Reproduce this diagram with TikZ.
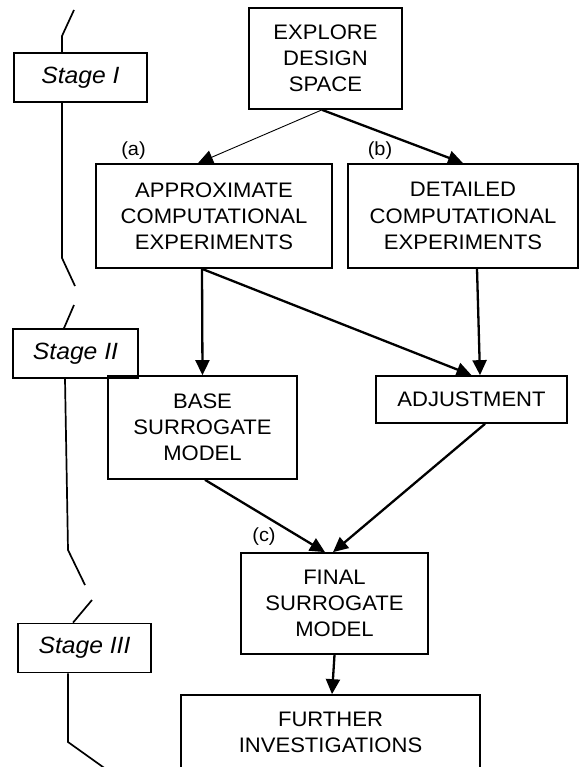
\documentclass[tikz,border=0pt]{standalone}
\usepackage{fontspec}
\setmainfont[FakeStretch=1.05]{Liberation Sans}
\usetikzlibrary{arrows.meta}

\tikzset{
  block/.style={draw, line width=1.7pt, align=center, inner sep=0pt,
    font=\fontsize{21}{26.2}\selectfont},
  stagebox/.style={draw, line width=1.7pt, inner sep=0pt, minimum height=49pt,
    font=\fontsize{23.5}{28}\selectfont\itshape},
  stageline/.style={line width=1.7pt},
  flow/.style={-{Triangle[length=15pt,width=14pt]}, line width=2.3pt},
  thinflow/.style={-{Triangle[length=15pt,width=14pt]}, line width=0.9pt},
  tag/.style={font=\fontsize{19}{21}\selectfont}
}

\begin{document}
\begin{tikzpicture}[x=1pt,y=-1pt]
  \useasboundingbox (0,0) rectangle (581,767);
  \clip (0,0) rectangle (581,767);

  % main blocks
  \node[block, minimum width=153pt, minimum height=101pt] (explore) at (325.5,58.5) {EXPLORE\\DESIGN\\SPACE};
  \node[block, minimum width=236pt, minimum height=104pt] (approx) at (214,216) {APPROXIMATE\\COMPUTATIONAL\\EXPERIMENTS};
  \node[block, minimum width=230pt, minimum height=104pt] (detailed) at (463,216) {DETAILED\\COMPUTATIONAL\\EXPERIMENTS};
  \node[block, minimum width=189pt, minimum height=103pt] (base) at (202.5,427.5) {BASE\\SURROGATE\\MODEL};
  \node[block, minimum width=191pt, minimum height=47pt] (adjust) at (471.5,399.5) {ADJUSTMENT};
  \node[block, minimum width=187pt, minimum height=101pt] (final) at (334.5,603.5) {FINAL\\SURROGATE\\MODEL};
  \node[block, minimum width=299pt, minimum height=75pt] (further) at (330.5,732.5) {FURTHER\\INVESTIGATIONS};

  % labels
  \node[tag] (la) at (133.5,151) {(a)};
  \node[tag] (lb) at (380,151) {(b)};
  \node[tag] (lc) at (264,537) {(c)};

  % arrows
  \draw[thinflow] ([xshift=-3.5pt]explore.south) -- ([xshift=-16pt]approx.north);
  \draw[flow] ([xshift=-3.5pt]explore.south) -- (detailed.north);
  \draw[flow] ([xshift=-12pt]approx.south) -- (base.north);
  \draw[flow] ([xshift=-12pt]approx.south) -- (adjust.north);
  \draw[flow] ([xshift=14pt]detailed.south) -- ([xshift=8.5pt]adjust.north);
  \draw[flow] ([xshift=2.5pt]base.south) -- ([xshift=-9.5pt]final.north);
  \draw[flow] ([xshift=13.5pt]adjust.south) -- ([xshift=-1.5pt]final.north);
  \draw[flow] (final.south) -- ([xshift=1.5pt]further.north);

  % stages
  \node[stagebox, minimum width=133pt] (s1) at (80.5,77.5) {Stage I};
  \node[stagebox, minimum width=125pt] (s2) at (75.5,353.5) {Stage II};
  \node[stagebox, minimum width=133pt] (s3) at (84.5,648) {Stage III};

  \draw[stageline] (74,10) -- (62,36) -- ([xshift=-18.5pt]s1.north);
  \draw[stageline] ([xshift=-18.5pt]s1.south) -- (62,258) -- (75,286);
  \draw[stageline] (74,305) -- ([xshift=-11.5pt]s2.north);
  \draw[stageline] ([xshift=-10.5pt]s2.south) -- (68,550) -- (85,585);
  \draw[stageline] (92,600) -- ([xshift=-11.5pt]s3.north);
  \draw[stageline] ([xshift=-16.5pt]s3.south) -- (68,742) -- (110,772);
\end{tikzpicture}
\end{document}
